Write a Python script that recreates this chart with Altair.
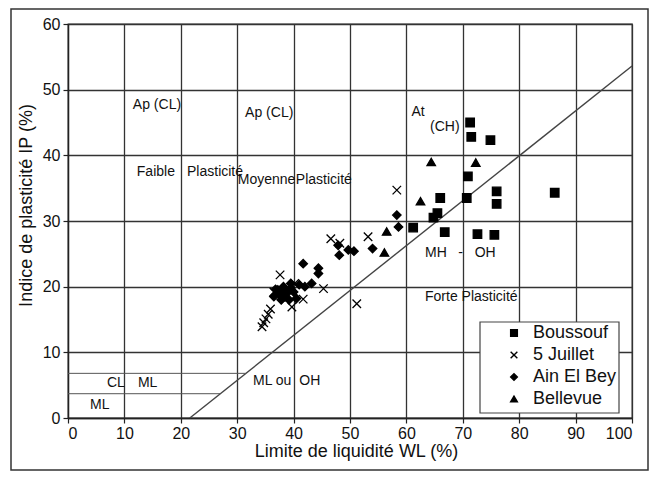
import altair as alt
import pandas as pd

# ---- data ----
series_names = ["Boussouf", "5 Juillet", "Ain El Bey", "Bellevue"]

boussouf_wl = [71.3, 71.5, 74.9, 70.9, 70.7, 76.0, 76.0, 86.3, 66.0, 65.5, 64.8, 61.2, 66.8, 72.6, 75.6]
boussouf_ip = [45.0, 42.8, 42.3, 36.8, 33.5, 34.5, 32.6, 34.3, 33.5, 31.2, 30.5, 29.0, 28.3, 28.0, 27.9]

juillet_wl = [58.3, 46.6, 48.2, 53.2, 45.3, 51.2, 37.6, 41.7, 39.7, 35.9, 35.5, 35.1, 34.7, 34.4, 36.5, 38.5, 40.2]
juillet_ip = [34.7, 27.3, 26.6, 27.6, 19.7, 17.4, 21.8, 18.1, 16.9, 16.6, 15.8, 15.1, 14.5, 13.9, 19.2, 18.0, 20.5]

ainelbey_wl = [58.3, 58.6, 54.0, 47.9, 48.1, 49.7, 50.7, 41.7, 44.4, 44.4, 43.2, 38.5, 39.5, 40.0, 41.0,
               38.0, 40.5, 37.2, 39.2, 42.0, 36.8, 37.5, 38.2, 38.8, 37.8, 39.5, 36.5]
ainelbey_ip = [30.9, 29.1, 25.8, 26.3, 24.8, 25.6, 25.4, 23.5, 22.8, 22.0, 20.5, 19.5, 20.5, 19.2, 20.3,
               18.7, 18.2, 19.5, 18.0, 20.0, 19.6, 18.8, 20.0, 19.0, 18.0, 19.8, 18.5]

bellevue_wl = [64.4, 72.3, 62.5, 56.5, 56.1, 38.3]
bellevue_ip = [39.0, 38.9, 33.0, 28.4, 25.2, 18.4]

# A-line and CL-ML band
aline_wl = [21.6, 100.0]
aline_ip = [0.0, 53.6]
band_ip = [6.8, 3.7]
band_end_wl = [31.5, 27.0]

# zone annotations (text, WL, IP)
ann_text = ["Ap (CL)", "Ap (CL)", "Faible", "Plasticité", "Moyenne", "Plasticité",
            "At", "(CH)", "MH", "-", "OH", "Forte Plasticité",
            "ML ou", "OH", "CL", "ML", "ML"]
ann_wl = [11.5, 31.4, 12.2, 21.1, 30.1, 40.4, 60.9, 64.2, 63.3, 69.2, 72.1, 63.3, 32.8, 41.0, 6.9, 12.4, 3.9]
ann_ip = [47.6, 46.4, 37.4, 37.4, 36.2, 36.2, 46.6, 44.3, 25.1, 25.1, 25.1, 18.4, 5.6, 5.6, 5.3, 5.3, 2.0]

x_ticks = list(range(0, 101, 10))
y_ticks = list(range(0, 61, 10))

# ---- tables ----
rows = []
for name, wl, ip in [("Boussouf", boussouf_wl, boussouf_ip), ("5 Juillet", juillet_wl, juillet_ip),
                     ("Ain El Bey", ainelbey_wl, ainelbey_ip), ("Bellevue", bellevue_wl, bellevue_ip)]:
    for a, b in zip(wl, ip):
        rows.append({"series": name, "WL": a, "IP": b})
pts = pd.DataFrame(rows)
aline = pd.DataFrame({"WL": aline_wl, "IP": aline_ip})
band = pd.DataFrame({"IP": band_ip, "WL0": [0, 0], "WL1": band_end_wl})
ann = pd.DataFrame({"t": ann_text, "WL": ann_wl, "IP": ann_ip})

FONT = "Liberation Sans"
xs = alt.Scale(domain=[0, 100], nice=False, zero=False)
ys = alt.Scale(domain=[0, 60], nice=False, zero=False)

base_x = alt.X("WL:Q", scale=xs, axis=alt.Axis(
    values=x_ticks, title="Limite de liquidité WL (%)", grid=True, tickSize=5,
    labelPadding=2, titlePadding=1, titleX=288))
base_y = alt.Y("IP:Q", scale=ys, axis=alt.Axis(
    values=y_ticks, title="Indice de plasticité IP (%)", grid=True, tickSize=5,
    labelPadding=3, titleX=-42, titleY=181, titleBaseline="middle"))

aline_layer = alt.Chart(aline).mark_line(color="#444", strokeWidth=1.4).encode(x=base_x, y=base_y)

band_layer = alt.Chart(band).mark_rule(color="#555", strokeWidth=1).encode(
    x=alt.X("WL0:Q", scale=xs), x2="WL1:Q", y=alt.Y("IP:Q", scale=ys))

ann_layer = alt.Chart(ann).mark_text(align="left", baseline="middle", font=FONT, fontSize=14,
                                     color="#111").encode(
    x=alt.X("WL:Q", scale=xs), y=alt.Y("IP:Q", scale=ys), text="t:N")

legend_box = alt.Chart(pd.DataFrame({"a": [0]})).mark_rect(
    fill="white", stroke="#444", strokeWidth=1.2).encode(
    x=alt.value(412), x2=alt.value(551), y=alt.value(298), y2=alt.value(389))

shape_scale = alt.Scale(domain=series_names,
                        range=["square", "M-1,-1L1,1M-1,1L1,-1", "diamond", "triangle-up"])
black_scale = alt.Scale(domain=series_names, range=["black"] * 4)


def leg():
    return alt.Legend(title=None, orient="none", legendX=437, legendY=300,
                      symbolSize=45, symbolStrokeWidth=1.4,
                      labelFontSize=18, labelFont=FONT, labelOffset=10,
                      rowPadding=4, labelColor="#111")


points = alt.Chart(pts).mark_point(filled=True, strokeWidth=1.3, opacity=1, size=72).encode(
    x=alt.X("WL:Q", scale=xs), y=alt.Y("IP:Q", scale=ys),
    shape=alt.Shape("series:N", scale=shape_scale, sort=series_names, legend=leg()),
    color=alt.Color("series:N", scale=black_scale, sort=series_names, legend=leg()),
    stroke=alt.Stroke("series:N", scale=black_scale, sort=series_names, legend=leg()),
)

frame = alt.Chart(pd.DataFrame({"a": [0]})).mark_rect(
    fill="white", fillOpacity=0, stroke="#333", strokeWidth=1.5).encode(
    x=alt.value(-57), x2=alt.value(580), y=alt.value(-15), y2=alt.value(446))

chart = alt.layer(aline_layer, band_layer, ann_layer, legend_box, points, frame).properties(
    width=564, height=394,
    padding={"left": 60, "top": 16, "right": 17, "bottom": 53},
    autosize=alt.AutoSizeParams(type="none"),
    background="white",
).configure_view(stroke="#333", strokeWidth=1.3).configure_axis(
    labelFont=FONT, titleFont=FONT, labelFontSize=16, titleFontSize=18,
    labelColor="#111", titleColor="#111", titleFontWeight="normal",
    gridColor="#333", gridWidth=1.3, gridOpacity=1,
    domainColor="#222", domainWidth=1.3, tickColor="#222", tickWidth=1.2,
)

chart.save("out.html", embed_options={"renderer": "svg", "actions": False})
